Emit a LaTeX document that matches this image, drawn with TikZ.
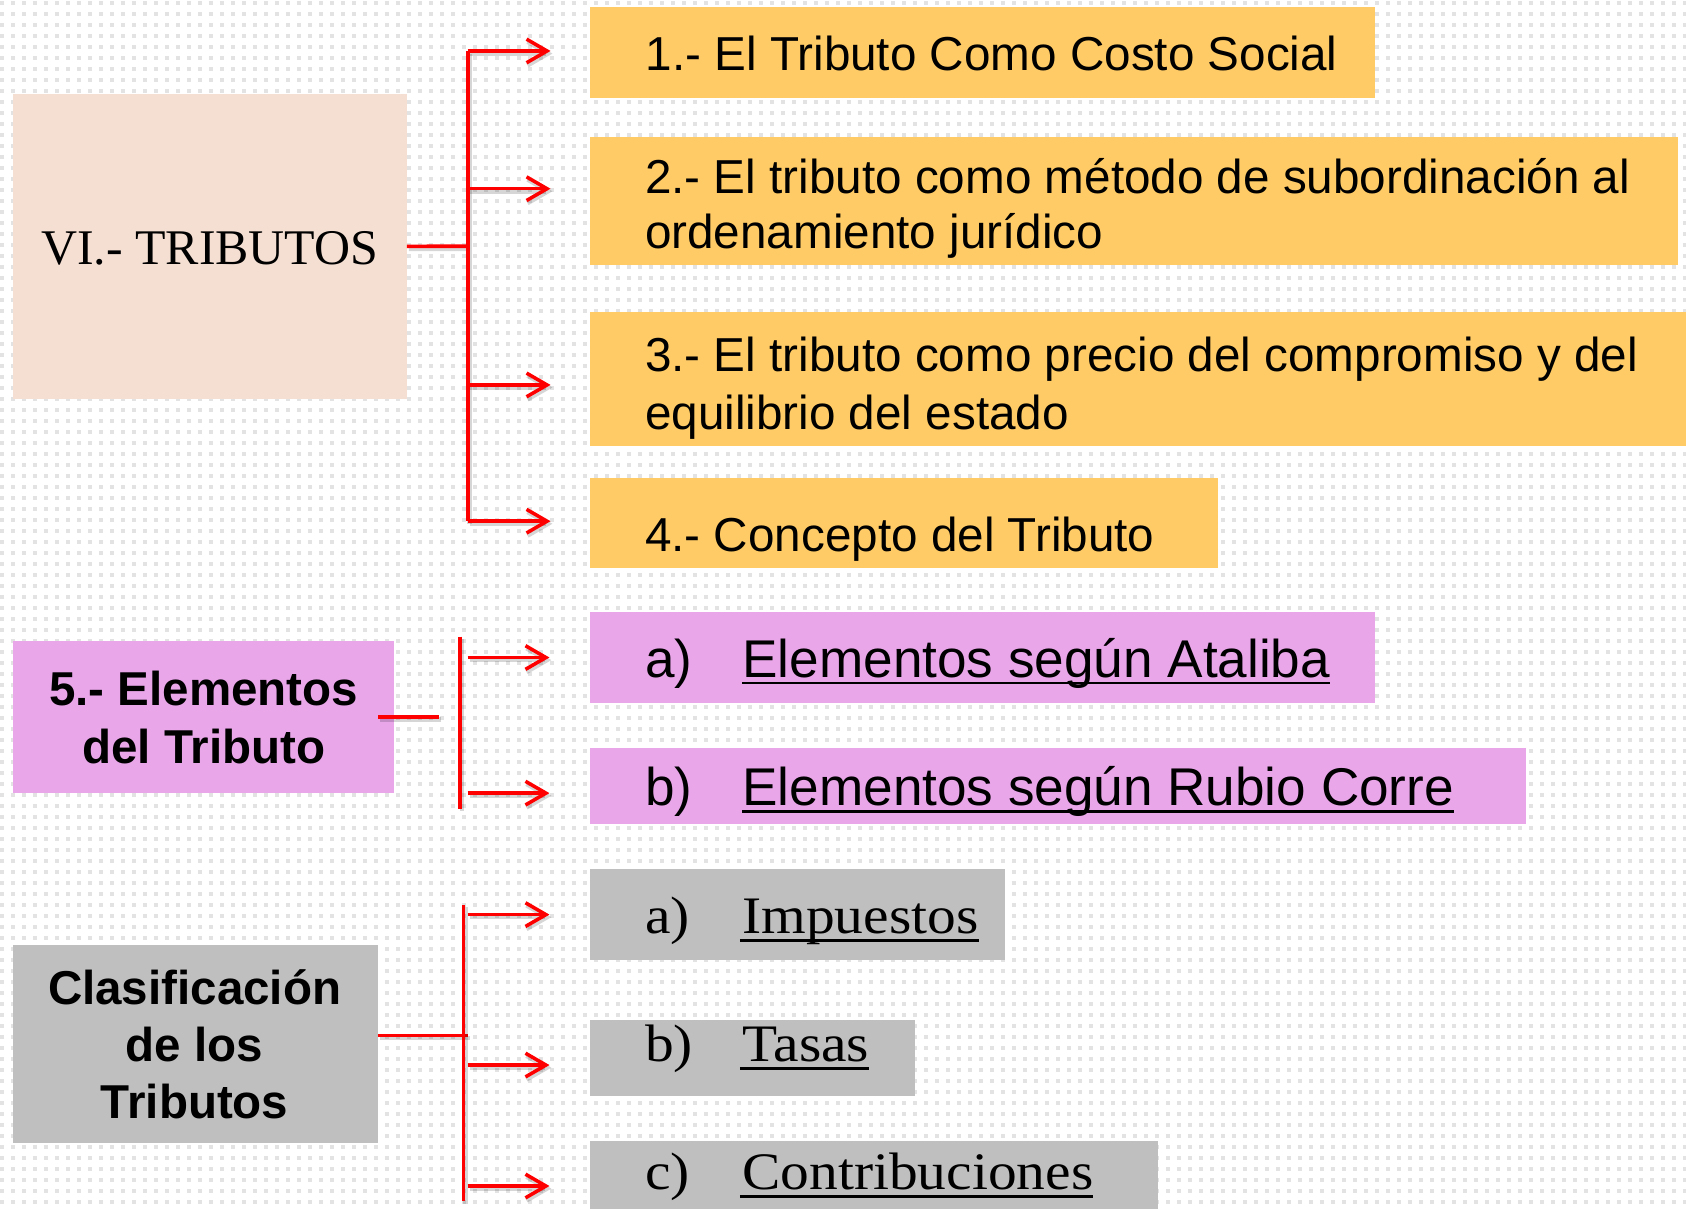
\documentclass[tikz,border=0pt]{standalone}
\usepackage{fontspec}
\setmainfont{Liberation Serif}
\newfontfamily\arialf{Liberation Sans}
\newfontfamily\timesf{Liberation Serif}
\newfontfamily\cambf[FakeStretch=1.09]{Liberation Serif}
\usetikzlibrary{arrows.meta}
\definecolor{orangebox}{HTML}{FECB66}
\definecolor{peachbox}{HTML}{F5DFD2}
\definecolor{pinkbox}{HTML}{E9A6E9}
\definecolor{graybox}{HTML}{BFBFBF}
\definecolor{dotc}{HTML}{E3E3E3}
\definecolor{redc}{HTML}{FF0000}
\begin{document}
\begin{tikzpicture}[x=1pt,y=1pt,
  box/.style={draw=none, inner sep=0pt, outer sep=0pt, anchor=north west},
  txt/.style={inner sep=0pt, outer sep=0pt, anchor=base west, text=black},
  ta/.style={txt, font=\arialf\fontsize{44.3}{50}\selectfont},
  tb/.style={txt, font=\arialf\fontsize{49.4}{55}\selectfont},
  tc/.style={txt, font=\cambf\fontsize{49}{55}\selectfont},
  tbold/.style={inner sep=0pt, outer sep=0pt, anchor=base, font=\arialf\bfseries\fontsize{44.2}{50}\selectfont},
  tvi/.style={inner sep=0pt, outer sep=0pt, anchor=base, font=\timesf\fontsize{46.4}{50}\selectfont},
  uline/.style={line width=2.2pt, black},
  redline/.style={draw=redc, line width=3.3pt,
    preaction={draw=black, opacity=0.16, line width=4.2pt, transform canvas={shift={(1.8pt,-2.4pt)}}}},
  redarrow/.style={redline, -{Straight Barb[length=19pt,width=22pt]}}
]
\useasboundingbox (0,0) rectangle (1568,-1124.4);
\fill[white] (0,0) rectangle (1568,-1124.4);
% dotted background
\foreach \i in {0,...,109} {
  \draw[dotc, line width=3.6pt, dash pattern=on 3.6pt off 6.63pt] (0,{-2.8-\i*10.23}) -- (1568,{-2.8-\i*10.23});
}

% boxes
\node[box, fill=peachbox, minimum width=366pt, minimum height=283.7pt] (vi) at (12.5,-87.2) {};
\node[box, fill=orangebox, minimum width=730.2pt, minimum height=84.8pt] (b1) at (548.3,-6.2) {};
\node[box, fill=orangebox, minimum width=1012.2pt, minimum height=118.7pt] (b2) at (548.3,-127.3) {};
\node[box, fill=orangebox, minimum width=1019.7pt, minimum height=124.8pt] (b3) at (548.3,-289.7) {};
\node[box, fill=orangebox, minimum width=584.2pt, minimum height=84.2pt] (b4) at (548.3,-444.5) {};
\node[box, fill=pinkbox, minimum width=354pt, minimum height=141.5pt] (e5) at (12.5,-596) {};
\node[box, fill=pinkbox, minimum width=730pt, minimum height=84.2pt] (pa) at (549,-569.6) {};
\node[box, fill=pinkbox, minimum width=870pt, minimum height=70.3pt] (pb) at (549,-696) {};
\node[box, fill=graybox, minimum width=338.9pt, minimum height=183.7pt] (cl) at (12.5,-878.9) {};
\node[box, fill=graybox, minimum width=386pt, minimum height=85pt] (ga) at (549,-808) {};
\node[box, fill=graybox, minimum width=301.6pt, minimum height=70.4pt] (gb) at (549,-948.6) {};
\node[box, fill=graybox, minimum width=528pt, minimum height=63.4pt] (gc) at (549,-1061) {};

% texts
\node[tvi] (tvi1) at (195,-245.6) {VI.- TRIBUTOS};
\node[ta] (t1) at (600.6,-66) {1.- El Tributo Como Costo Social};
\node[ta] (t2a) at (600,-179.6) {2.- El tributo como método de subordinación al};
\node[ta] (t2b) at (600,-231) {ordenamiento jurídico};
\node[ta] (t3a) at (600,-345.7) {3.- El tributo como precio del compromiso y del};
\node[ta] (t3b) at (600,-399) {equilibrio del estado};
\node[ta] (t4) at (600,-512.6) {4.- Concepto del Tributo};

\node[tbold] (t5a) at (189.5,-656) {5.- Elementos};
\node[tbold] (t5b) at (189.5,-709.6) {del Tributo};
\node[tbold] (tca) at (181,-933.8) {Clasificación};
\node[tbold] (tcb) at (181,-986.8) {de los};
\node[tbold] (tcc) at (181,-1040) {Tributos};

\node[tb] (lpa) at (600,-630) {a)};
\node[tb] (upa) at (690.5,-630) {Elementos según Ataliba};
\node[tb] (lpb) at (600,-749.4) {b)};
\node[tb] (upb) at (690.5,-749.4) {Elementos según Rubio Corre};
\draw[uline] ([yshift=-5.3pt]upa.base west) -- ([yshift=-5.3pt]upa.base east);
\draw[uline] ([yshift=-5.3pt]upb.base west) -- ([yshift=-5.3pt]upb.base east);

\node[tc] (lga) at (600,-868.6) {a)};
\node[tc] (uga) at (690.5,-868.6) {Impuestos};
\node[tc] (lgb) at (600,-987.6) {b)};
\node[tc] (ugb) at (690.5,-987.6) {Tasas};
\node[tc] (lgc) at (600,-1106.6) {c)};
\node[tc] (ugc) at (690.5,-1106.6) {Contribuciones};
\draw[uline] ([xshift=-2.5pt,yshift=-6pt]uga.base west) -- ([yshift=-6pt]uga.base east);
\draw[uline] ([xshift=-2.5pt,yshift=-6pt]ugb.base west) -- ([yshift=-6pt]ugb.base east);
\draw[uline] ([xshift=-2.5pt,yshift=-6pt]ugc.base west) -- ([yshift=-6pt]ugc.base east);

% connectors: group VI
\coordinate (v1t) at (435,-47.4);
\coordinate (v1m) at (435,-229);
\coordinate (v1b) at (435,-484.7);
\coordinate (s2) at (435,-175.5);
\coordinate (s3) at (435,-358);
\coordinate (a1) at (512,-47.4);
\coordinate (a2) at (512,-175.5);
\coordinate (a3) at (512,-358);
\coordinate (a4) at (512,-484.7);
\draw[redline] (vi.east) -- (v1m);
\draw[redline] (v1t) -- (v1b);
\draw[redarrow] (v1t) -- (a1);
\draw[redarrow] (s2) -- (a2);
\draw[redarrow] (s3) -- (a3);
\draw[redarrow] (v1b) -- (a4);

% group 5
\coordinate (h5) at (408,-666.75);
\coordinate (v5t) at (428,-592);
\coordinate (v5b) at (428,-752);
\coordinate (s5) at (435,-611.5);
\coordinate (s6) at (435,-737.6);
\coordinate (a5) at (511,-611.5);
\coordinate (a6) at (511,-737.6);
\draw[redline] ([xshift=-14.5pt]e5.east) -- (h5);
\draw[redline] (v5t) -- (v5b);
\draw[redarrow] (s5) -- (a5);
\draw[redarrow] (s6) -- (a6);

% group clasificacion
\coordinate (hc) at (435,-963);
\coordinate (vct) at (431,-841.5);
\coordinate (vcb) at (431,-1117);
\coordinate (s7) at (435,-850.6);
\coordinate (s8) at (435,-990.5);
\coordinate (s9) at (435,-1103);
\coordinate (a7) at (511,-850.6);
\coordinate (a8) at (511,-990.5);
\coordinate (a9) at (511,-1103);
\draw[redline] (cl.east |- hc) -- (hc);
\draw[redline] (vct) -- (vcb);
\draw[redarrow] (s7) -- (a7);
\draw[redarrow] (s8) -- (a8);
\draw[redarrow] (s9) -- (a9);
\end{tikzpicture}
\end{document}
